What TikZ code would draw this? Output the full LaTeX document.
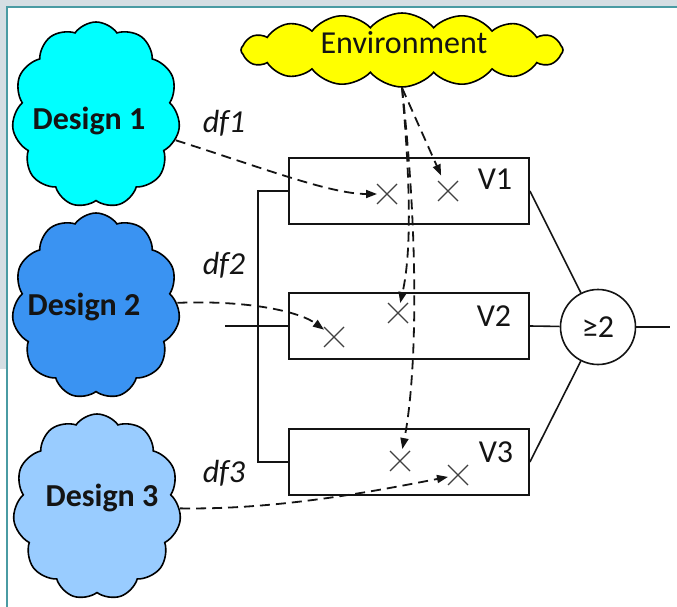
\documentclass[tikz,border=0pt]{standalone}
\usepackage{fontspec}
\setmainfont{Carlito}
\usetikzlibrary{shapes.symbols,shapes.misc,arrows.meta}
\definecolor{framegray}{HTML}{D5DEE3}
\definecolor{frameteal}{HTML}{4A9BA3}
\definecolor{dcyan}{HTML}{00FFFF}
\definecolor{dblue}{HTML}{3A93F2}
\definecolor{dlight}{HTML}{99CCFF}
\definecolor{envyellow}{HTML}{FFFF00}
\definecolor{ink}{HTML}{141414}
\definecolor{crossink}{HTML}{404040}
\begin{document}
\begin{tikzpicture}[x=1pt,y=-1pt,
  every node/.style={font=\fontsize{32}{36}\selectfont, text=ink},
  designcloud/.style={cloud, cloud puffs=11, cloud puff arc=110, draw=black,
    line width=1.6pt, minimum width=168pt, minimum height=186pt, inner sep=0pt},
  envcloud/.style={cloud, cloud puffs=16, cloud puff arc=100, draw=black,
    line width=1.6pt, minimum width=322pt, minimum height=74pt, inner sep=0pt,
    fill=envyellow},
  designtext/.style={font=\fontsize{32}{36}\selectfont\bfseries, inner sep=0pt},
  plaintext/.style={inner sep=0pt},
  dftext/.style={font=\fontsize{32}{36}\selectfont\itshape, inner sep=0pt},
  vbox/.style={draw=ink, line width=1.8pt, minimum width=240pt, minimum height=66pt, inner sep=0pt},
  xmark/.style={cross out, draw=crossink, line width=1.3pt, minimum size=18pt, inner sep=0pt, outer sep=1pt},
  gate/.style={circle, draw=ink, line width=1.6pt, minimum size=75pt, inner sep=0pt},
  wire/.style={draw=ink, line width=1.6pt},
  dasharrow/.style={draw=ink, line width=1.8pt, dash pattern=on 10pt off 6pt,
    -{Triangle[length=11pt,width=8pt]}}
]
% frame
\path[fill=white] (0,0) rectangle (677,607);
\useasboundingbox (0,0) rectangle (677,607);
\fill[framegray] (0,0) rectangle (677,6);
\fill[framegray] (0,0) rectangle (6,369);
\draw[frameteal, line width=2.2pt] (7,607) -- (7,7) -- (677,7);

% clouds
\node[designcloud, fill=dcyan] (d1) at (96,115) {};
\node[designcloud, fill=dblue] (d2) at (96,306) {};
\node[designcloud, fill=dlight] (d3) at (97,507) {};
\node[envcloud] (env) at (402,50) {};
\node[designtext] (d1t) at (89,121) {Design 1};
\node[designtext] (d2t) at (84,307) {Design 2};
\node[designtext] (d3t) at (102,498) {Design 3};
\node[plaintext] (envt) at (404,43) {Environment};

% boxes
\node[vbox] (v1) at (409,191) {};
\node[vbox] (v2) at (409,326) {};
\node[vbox] (v3) at (409,462) {};
\node[plaintext] (v1t) at (495,179) {V1};
\node[plaintext] (v2t) at (494,316) {V2};
\node[plaintext] (v3t) at (496,452) {V3};

% df labels
\node[dftext] (df1) at (224,123) {df1};
\node[dftext] (df2) at (224,265) {df2};
\node[dftext] (df3) at (224,473) {df3};

% crosses
\node[xmark] (x11) at (387,194) {};
\node[xmark] (x12) at (448,191) {};
\node[xmark] (x21) at (334,337) {};
\node[xmark] (x22) at (398,313) {};
\node[xmark] (x31) at (400,461) {};
\node[xmark] (x32) at (458,475) {};

% gate
\node[gate] (g) at (598,327) {≥2};
\coordinate (gout) at (670,327);
\coordinate (gin) at (225,326);
\coordinate (busTop) at (258,191);
\coordinate (busBot) at (258,462);

% wiring
\draw[wire] (v1.west) -- (busTop) -- (busBot) -- (v3.west);
\draw[wire] (gin) -- (v2.west);
\draw[wire] (v1.east) -- (g);
\draw[wire] (v2.east) -- (g);
\draw[wire] (v3.east) -- (g);
\draw[wire] (g) -- (gout);

% dashed arrows
\draw[dasharrow] (d1) .. controls (260,167) and (330,194) .. (x11);
\draw[dasharrow] (d2) .. controls (250,300) and (300,312) .. (x21);
\draw[dasharrow] (d3) .. controls (280,510) and (380,490) .. (x32);
\draw[dasharrow, shorten >=6pt] (env.south) -- (x12);
\draw[dasharrow] (env.south) .. controls (410,180) and (412,250) .. (x22);
\draw[dasharrow, shorten >=2pt] (env.south) .. controls (420,250) and (416,380) .. (x31);
\end{tikzpicture}
\end{document}
